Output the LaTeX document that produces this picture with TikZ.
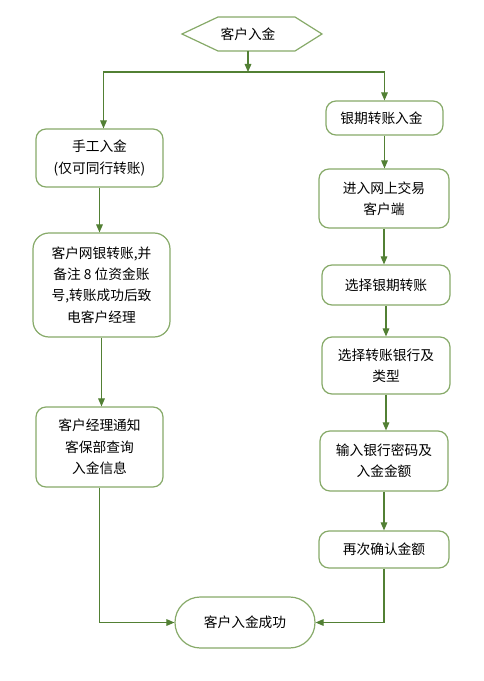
\documentclass[tikz,border=0pt]{standalone}
\usepackage{fontspec}
\setmainfont{Noto Sans CJK SC}
\usepackage{tikz}
\usetikzlibrary{arrows.meta}
\definecolor{boxgreen}{RGB}{135,170,105}
\definecolor{linegreen}{RGB}{82,128,52}

\tikzset{
  stepbox/.style={draw=boxgreen, line width=0.9pt, rounded corners=7.5pt, fill=white,
    inner sep=0pt, align=center, font=\fontsize{10.3}{16}\selectfont},
  flow/.style={->, draw=linegreen, line width=0.8pt},
}

\begin{document}
\begin{tikzpicture}[x=0.75pt, y=-0.75pt, >={Triangle[width=5pt,length=6pt]}]
\useasboundingbox (0,0) rectangle (484,681);

% start
\draw[boxgreen, line width=0.9pt, fill=white] (182,34) -- (218,17) -- (295,17) -- (322,34) -- (295,51) -- (218,51) -- cycle;
\node[font=\fontsize{10.3}{16}\selectfont] (start) at (248,34) {客户入金};
\coordinate (split) at (248,72);

% left side
\node[stepbox, minimum width=95.25pt, minimum height=43.5pt] (manual) at (99.5,158) {手工入金\\(仅可同行转账)};
\node[stepbox, minimum width=102.75pt, minimum height=78pt, rounded corners=12pt] (netbank) at (101.5,285) {客户网银转账,并\\备注 8 位资金账\\号,转账成功后致\\电客户经理};
\node[stepbox, minimum width=95.25pt, minimum height=60pt] (notify) at (99.5,447) {客户经理通知\\客保部查询\\入金信息};

% right side
\node[stepbox, minimum width=87.75pt, minimum height=25.5pt] (bank) at (384.5,118) {银期转账入金\hspace{4.5pt}};
\node[stepbox, minimum width=97.5pt, minimum height=44.25pt] (client) at (384,198.5) {进入网上交易\\客户端};
\node[stepbox, minimum width=96pt, minimum height=30pt] (selbank) at (386,285) {选择银期转账};
\node[stepbox, minimum width=96pt, minimum height=42.75pt] (seltype) at (386,365.5) {选择转账银行及\\类型};
\node[stepbox, minimum width=96pt, minimum height=45pt] (input) at (384,461) {输入银行密码及\\入金金额};
\node[stepbox, minimum width=97.5pt, minimum height=27.75pt] (confirm) at (384,549.5) {再次确认金额};

% end
\node[stepbox, minimum width=105pt, minimum height=38.25pt, rounded corners=19pt] (success) at (245,622.5) {客户入金成功};

\draw[flow] (start.south |- 0,51) -- (split);
\draw[flow] (split) -| ([xshift=3pt]manual.north);
\draw[flow] (split) -| (bank.north);
\draw[flow] (manual) -- (manual |- netbank.north);
\draw[flow] (netbank) -- (netbank |- notify.north);
\draw[flow] (bank) -- (bank |- client.north);
\draw[flow] (client) -- (client |- selbank.north);
\draw[flow] (selbank) -- (selbank |- seltype.north);
\draw[flow] (seltype) -- (seltype |- input.north);
\draw[flow] (input) -- (input |- confirm.north);
\draw[flow] (notify.south) |- (success.west);
\draw[flow] (confirm.south) |- (success.east);
\end{tikzpicture}
\end{document}
